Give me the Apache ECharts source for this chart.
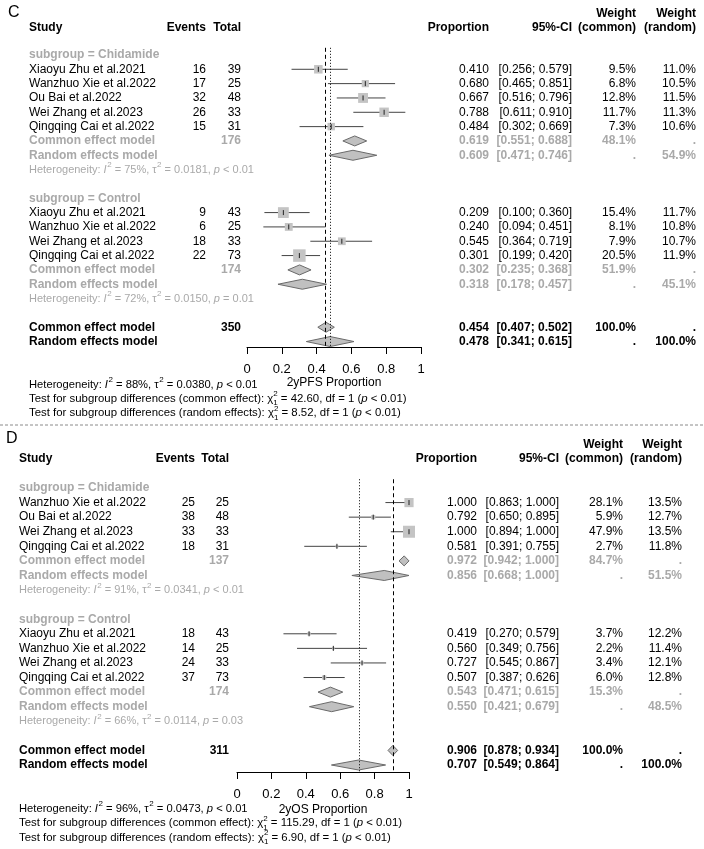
<!DOCTYPE html>
<html><head><meta charset="utf-8">
<script src="https://cdn.jsdelivr.net/npm/echarts@6/dist/echarts.min.js"></script>
<style>html,body{margin:0;padding:0;background:#fff}#c{width:704px;height:849px}</style>
</head><body><div id="c"></div>
<script>
// ================= DATA: Panel C (2yPFS) =================
const cChidStudies = ['Xiaoyu Zhu et al.2021','Wanzhuo Xie et al.2022','Ou Bai et al.2022','Wei Zhang et al.2023','Qingqing Cai et al.2022'];
const cChidEvents = [16, 17, 32, 26, 15];
const cChidTotal = [39, 25, 48, 33, 31];
const cChidProp = [0.410, 0.680, 0.667, 0.788, 0.484];
const cChidLower = [0.256, 0.465, 0.516, 0.611, 0.302];
const cChidUpper = [0.579, 0.851, 0.796, 0.910, 0.669];
const cChidWCommon = [9.5, 6.8, 12.8, 11.7, 7.3];
const cChidWRandom = [11.0, 10.5, 11.5, 11.3, 10.6];
const cChidCommon = [0.619, 0.551, 0.688]; const cChidCommonW = 48.1; const cChidN = 176;
const cChidRandom = [0.609, 0.471, 0.746]; const cChidRandomW = 54.9;
const cChidHet = [75, '0.0181', '< 0.01'];

const cCtrlStudies = ['Xiaoyu Zhu et al.2021','Wanzhuo Xie et al.2022','Wei Zhang et al.2023','Qingqing Cai et al.2022'];
const cCtrlEvents = [9, 6, 18, 22];
const cCtrlTotal = [43, 25, 33, 73];
const cCtrlProp = [0.209, 0.240, 0.545, 0.301];
const cCtrlLower = [0.100, 0.094, 0.364, 0.199];
const cCtrlUpper = [0.360, 0.451, 0.719, 0.420];
const cCtrlWCommon = [15.4, 8.1, 7.9, 20.5];
const cCtrlWRandom = [11.7, 10.8, 10.7, 11.9];
const cCtrlCommon = [0.302, 0.235, 0.368]; const cCtrlCommonW = 51.9; const cCtrlN = 174;
const cCtrlRandom = [0.318, 0.178, 0.457]; const cCtrlRandomW = 45.1;
const cCtrlHet = [72, '0.0150', '= 0.01'];

const cAllCommon = [0.454, 0.407, 0.502]; const cAllN = 350;
const cAllRandom = [0.478, 0.341, 0.615];
const cAllHet = [88, '0.0380', '< 0.01'];
const cTests = [['common effect', '42.60', 1, '< 0.01'], ['random effects', '8.52', 1, '< 0.01']];
const cAxisName = '2yPFS Proportion';

// ================= DATA: Panel D (2yOS) =================
const dChidStudies = ['Wanzhuo Xie et al.2022','Ou Bai et al.2022','Wei Zhang et al.2023','Qingqing Cai et al.2022'];
const dChidEvents = [25, 38, 33, 18];
const dChidTotal = [25, 48, 33, 31];
const dChidProp = [1.000, 0.792, 1.000, 0.581];
const dChidLower = [0.863, 0.650, 0.894, 0.391];
const dChidUpper = [1.000, 0.895, 1.000, 0.755];
const dChidWCommon = [28.1, 5.9, 47.9, 2.7];
const dChidWRandom = [13.5, 12.7, 13.5, 11.8];
const dChidCommon = [0.972, 0.942, 1.000]; const dChidCommonW = 84.7; const dChidN = 137;
const dChidRandom = [0.856, 0.668, 1.000]; const dChidRandomW = 51.5;
const dChidHet = [91, '0.0341', '< 0.01'];

const dCtrlStudies = ['Xiaoyu Zhu et al.2021','Wanzhuo Xie et al.2022','Wei Zhang et al.2023','Qingqing Cai et al.2022'];
const dCtrlEvents = [18, 14, 24, 37];
const dCtrlTotal = [43, 25, 33, 73];
const dCtrlProp = [0.419, 0.560, 0.727, 0.507];
const dCtrlLower = [0.270, 0.349, 0.545, 0.387];
const dCtrlUpper = [0.579, 0.756, 0.867, 0.626];
const dCtrlWCommon = [3.7, 2.2, 3.4, 6.0];
const dCtrlWRandom = [12.2, 11.4, 12.1, 12.8];
const dCtrlCommon = [0.543, 0.471, 0.615]; const dCtrlCommonW = 15.3; const dCtrlN = 174;
const dCtrlRandom = [0.550, 0.421, 0.679]; const dCtrlRandomW = 48.5;
const dCtrlHet = [66, '0.0114', '= 0.03'];

const dAllCommon = [0.906, 0.878, 0.934]; const dAllN = 311;
const dAllRandom = [0.707, 0.549, 0.864];
const dAllHet = [96, '0.0473', '< 0.01'];
const dTests = [['common effect', '115.29', 1, '< 0.01'], ['random effects', '6.90', 1, '< 0.01']];
const dAxisName = '2yOS Proportion';

const xTicks = [0, 0.2, 0.4, 0.6, 0.8, 1];

// ================= STYLE / LAYOUT =================
const FAM = '"Liberation Sans", Arial, Helvetica, sans-serif';
const GREY = '#a9a9a9';
const font = (size, bold, italic) => (italic ? 'italic ' : '') + (bold ? 'bold ' : '') + size + 'px ' + FAM;
const mctx = document.createElement('canvas').getContext('2d');
function measure(t, f) { mctx.font = f; return mctx.measureText(t).width; }

const LC = { studyX: 29, evX: 206, totX: 241, propX: 489, ciX: 572, wcX: 636, wrX: 696, sqMax: 12.5,
  grid: { left: 247, width: 174, top: 47.8, height: 299.2 }, yMin: -0.5, yMax: 20.38, hdr: [-2.9, -1.9], nameGap: 30 };
const LD = { studyX: 19, evX: 195, totX: 229, propX: 477, ciX: 559, wcX: 623, wrX: 682, sqMax: 12,
  grid: { left: 237, width: 172, top: 479.25, height: 292.75 }, yMin: -0.6, yMax: 19.48, hdr: [-3, -2], nameGap: 32 };

function sub(label, studies, ev, tot, prop, lo, hi, wc, wr, com, comW, n, ran, ranW, het) {
  return { label, studies, ev, tot, prop, lo, hi, wc, wr, com, comW, n, ran, ranW, het };
}
const panelC = { L: LC, axisName: cAxisName, subs: [
  sub('Chidamide', cChidStudies, cChidEvents, cChidTotal, cChidProp, cChidLower, cChidUpper, cChidWCommon, cChidWRandom, cChidCommon, cChidCommonW, cChidN, cChidRandom, cChidRandomW, cChidHet),
  sub('Control', cCtrlStudies, cCtrlEvents, cCtrlTotal, cCtrlProp, cCtrlLower, cCtrlUpper, cCtrlWCommon, cCtrlWRandom, cCtrlCommon, cCtrlCommonW, cCtrlN, cCtrlRandom, cCtrlRandomW, cCtrlHet)],
  allCom: cAllCommon, allN: cAllN, allRan: cAllRandom, allHet: cAllHet, tests: cTests };
const panelD = { L: LD, axisName: dAxisName, subs: [
  sub('Chidamide', dChidStudies, dChidEvents, dChidTotal, dChidProp, dChidLower, dChidUpper, dChidWCommon, dChidWRandom, dChidCommon, dChidCommonW, dChidN, dChidRandom, dChidRandomW, dChidHet),
  sub('Control', dCtrlStudies, dCtrlEvents, dCtrlTotal, dCtrlProp, dCtrlLower, dCtrlUpper, dCtrlWCommon, dCtrlWRandom, dCtrlCommon, dCtrlCommonW, dCtrlN, dCtrlRandom, dCtrlRandomW, dCtrlHet)],
  allCom: dAllCommon, allN: dAllN, allRan: dAllRandom, allHet: dAllHet, tests: dTests };

const f3 = v => v.toFixed(3);
const ciStr = (a, b) => '[' + f3(a) + '; ' + f3(b) + ']';
const pct = v => v.toFixed(1) + '%';

function hetSegs(h) {
  return [{ t: 'Heterogeneity: ' }, { t: 'I', it: 1 }, { sup: '2' }, { t: ' = ' + h[0] + '%, ' }, { t: '\u03c4' }, { sup: '2' },
    { t: ' = ' + h[1] + ', ' }, { t: 'p', it: 1 }, { t: ' ' + h[2] }];
}
function testSegs(tt) {
  return [{ t: 'Test for subgroup differences (' + tt[0] + '): \u03c7' }, { stack: ['2', String(tt[2])] },
    { t: ' = ' + tt[1] + ', df = ' + tt[2] + ' (' }, { t: 'p', it: 1 }, { t: ' ' + tt[3] + ')' }];
}

function build(P) {
  const L = P.L; const rows = []; const ci = []; const dia = [];
  let wmax = 0; P.subs.forEach(s => s.wc.forEach(w => { wmax = Math.max(wmax, w); }));
  const cell = (x, t, o) => Object.assign({ x, t, align: 'right', size: 12, bold: false, color: '#000' }, o || {});
  rows.push({ row: L.hdr[0], cells: [cell(L.wcX, 'Weight', { bold: true }), cell(L.wrX, 'Weight', { bold: true })] });
  rows.push({ row: L.hdr[1], cells: [cell(L.studyX, 'Study', { bold: true, align: 'left' }), cell(L.evX, 'Events', { bold: true }),
    cell(L.totX, 'Total', { bold: true }), cell(L.propX, 'Proportion', { bold: true }), cell(L.ciX, '95%-CI', { bold: true }),
    cell(L.wcX, '(common)', { bold: true }), cell(L.wrX, '(random)', { bold: true })] });
  let r = 0;
  P.subs.forEach(s => {
    rows.push({ row: r, cells: [cell(L.studyX, 'subgroup = ' + s.label, { bold: true, align: 'left', color: GREY })] });
    r++;
    s.studies.forEach((name, i) => {
      rows.push({ row: r, cells: [cell(L.studyX, name, { align: 'left' }), cell(L.evX, String(s.ev[i])), cell(L.totX, String(s.tot[i])),
        cell(L.propX, f3(s.prop[i])), cell(L.ciX, ciStr(s.lo[i], s.hi[i])), cell(L.wcX, pct(s.wc[i])), cell(L.wrX, pct(s.wr[i]))] });
      ci.push([s.lo[i], s.hi[i], s.prop[i], r, L.sqMax * Math.sqrt(s.wc[i] / wmax)]);
      r++;
    });
    const g = { bold: true, color: GREY };
    rows.push({ row: r, cells: [cell(L.studyX, 'Common effect model', Object.assign({ align: 'left' }, g)), cell(L.totX, String(s.n), g),
      cell(L.propX, f3(s.com[0]), g), cell(L.ciX, ciStr(s.com[1], s.com[2]), g), cell(L.wcX, pct(s.comW), g), cell(L.wrX, '.', g)] });
    dia.push([s.com[1], s.com[2], s.com[0], r]); r++;
    rows.push({ row: r, cells: [cell(L.studyX, 'Random effects model', Object.assign({ align: 'left' }, g)),
      cell(L.propX, f3(s.ran[0]), g), cell(L.ciX, ciStr(s.ran[1], s.ran[2]), g), cell(L.wcX, '.', g), cell(L.wrX, pct(s.ranW), g)] });
    dia.push([s.ran[1], s.ran[2], s.ran[0], r]); r++;
    rows.push({ row: r, rich: hetSegs(s.het), x: L.studyX, size: 11, color: GREY }); r++;
    r++;
  });
  const b = { bold: true };
  rows.push({ row: r, cells: [cell(L.studyX, 'Common effect model', { bold: true, align: 'left' }), cell(L.totX, String(P.allN), b),
    cell(L.propX, f3(P.allCom[0]), b), cell(L.ciX, ciStr(P.allCom[1], P.allCom[2]), b), cell(L.wcX, '100.0%', b), cell(L.wrX, '.', b)] });
  dia.push([P.allCom[1], P.allCom[2], P.allCom[0], r]); r++;
  rows.push({ row: r, cells: [cell(L.studyX, 'Random effects model', { bold: true, align: 'left' }),
    cell(L.propX, f3(P.allRan[0]), b), cell(L.ciX, ciStr(P.allRan[1], P.allRan[2]), b), cell(L.wcX, '.', b), cell(L.wrX, '100.0%', b)] });
  dia.push([P.allRan[1], P.allRan[2], P.allRan[0], r]); r++;
  r += 2;
  rows.push({ row: r, rich: hetSegs(P.allHet), x: L.studyX, size: 11.2, color: '#000' }); r++;
  P.tests.forEach(tt => { rows.push({ row: r, rich: testSegs(tt), x: L.studyX, size: 11.4, color: '#000' }); r++; });
  return { rows, ci, dia };
}

function textEl(x, y, t, f, color, align) {
  return { type: 'text', x, y, silent: true, style: { text: t, font: f, fill: color, align: align || 'left', verticalAlign: 'middle' } };
}
function richEls(spec, y) {
  const els = []; let x = spec.x; const sz = spec.size; const c = spec.color;
  spec.rich.forEach(s => {
    if (s.stack) {
      const f = font(Math.round(sz * 0.72));
      els.push(textEl(x, y - sz * 0.42, s.stack[0], f, c));
      els.push(textEl(x, y + sz * 0.36, s.stack[1], f, c));
      x += Math.max(measure(s.stack[0], f), measure(s.stack[1], f));
    } else if (s.sup) {
      const f = font(Math.round(sz * 0.72));
      els.push(textEl(x + 0.5, y - sz * 0.42, s.sup, f, c)); x += measure(s.sup, f) + 0.5;
    } else {
      const f = font(sz, false, !!s.it);
      els.push(textEl(x, y, s.t, f, c)); x += measure(s.t, f);
    }
  });
  return els;
}

function seriesFor(P, gi) {
  const B = build(P);
  const refCommon = P.allCom[0], refRandom = P.allRan[0];
  return [
    { type: 'custom', name: 'text' + gi, xAxisIndex: gi, yAxisIndex: gi, clip: false, silent: true, z: 5,
      data: B.rows.map(rw => [0, rw.row]), encode: { x: 0, y: 1 },
      renderItem(params, api) {
        const spec = B.rows[params.dataIndex];
        const y = api.coord([0, api.value(1)])[1];
        const children = spec.rich ? richEls(spec, y)
          : spec.cells.map(cl => textEl(cl.x, y, cl.t, font(cl.size, cl.bold), cl.color, cl.align));
        return { type: 'group', children };
      } },
    { type: 'custom', name: 'ci' + gi, xAxisIndex: gi, yAxisIndex: gi, clip: false, silent: true, z: 3,
      data: B.ci, encode: { x: [0, 1, 2], y: 3 },
      renderItem(params, api) {
        const row = api.value(3);
        const a = api.coord([api.value(0), row]), b = api.coord([api.value(1), row]), e = api.coord([api.value(2), row]);
        const s = api.value(4);
        return { type: 'group', children: [
          { type: 'line', shape: { x1: a[0], y1: a[1], x2: b[0], y2: b[1] }, style: { stroke: '#444', lineWidth: 1 } },
          { type: 'rect', shape: { x: e[0] - s / 2, y: e[1] - s / 2, width: s, height: s }, style: { fill: '#c4c4c4' } },
          { type: 'line', shape: { x1: e[0], y1: e[1] - 2.5, x2: e[0], y2: e[1] + 2.5 }, style: { stroke: '#222', lineWidth: 1 } }
        ] };
      },
      markLine: { silent: true, symbol: ['none', 'none'], label: { show: false }, animation: false,
        data: [ { xAxis: refCommon, lineStyle: { color: '#000', width: 1, type: [4, 3] } },
                { xAxis: refRandom, lineStyle: { color: '#000', width: 1, type: [1, 2] } } ] } },
    { type: 'custom', name: 'dia' + gi, xAxisIndex: gi, yAxisIndex: gi, clip: false, silent: true, z: 4,
      data: B.dia, encode: { x: [0, 1, 2], y: 3 },
      renderItem(params, api) {
        const row = api.value(3);
        const a = api.coord([api.value(0), row]), b = api.coord([api.value(1), row]), e = api.coord([api.value(2), row]);
        const h = 5;
        return { type: 'polygon', shape: { points: [[a[0], a[1]], [e[0], e[1] - h], [b[0], b[1]], [e[0], e[1] + h]] },
          style: { fill: '#c0c0c0', stroke: '#6a6a6a', lineWidth: 1 } };
      } }
  ];
}

const panels = [panelC, panelD];
const option = {
  animation: false,
  backgroundColor: '#fff',
  grid: panels.map(P => Object.assign({}, P.L.grid)),
  xAxis: panels.map((P, i) => ({ type: 'value', gridIndex: i, position: 'bottom',
    min: xTicks[0], max: xTicks[xTicks.length - 1], interval: 0.2,
    axisLine: { show: true, onZero: false, lineStyle: { color: '#000', width: 1 } },
    axisTick: { show: true, inside: false, length: 7, lineStyle: { color: '#000' } },
    axisLabel: { fontSize: 13, color: '#000', margin: 16, fontFamily: FAM, formatter: v => String(+v.toFixed(1)) },
    splitLine: { show: false },
    name: P.axisName, nameLocation: 'middle', nameGap: P.L.nameGap,
    nameTextStyle: { fontSize: 12, color: '#000', fontFamily: FAM } })),
  yAxis: panels.map((P, i) => ({ type: 'value', gridIndex: i, inverse: true, min: P.L.yMin, max: P.L.yMax, show: false })),
  series: [].concat(seriesFor(panelC, 0), seriesFor(panelD, 1)),
  graphic: [
    { type: 'text', left: 8, top: 5, style: { text: 'C', font: '16px ' + FAM, fill: '#000' } },
    { type: 'text', left: 6, top: 431, style: { text: 'D', font: '16px ' + FAM, fill: '#000' } },
    { type: 'line', shape: { x1: 0, y1: 425, x2: 704, y2: 425 }, style: { stroke: '#8a8a8a', lineWidth: 1, lineDash: [3, 2] } }
  ]
};
const chart = echarts.init(document.getElementById('c'), null, { renderer: 'canvas' });
chart.setOption(option);
</script></body></html>
